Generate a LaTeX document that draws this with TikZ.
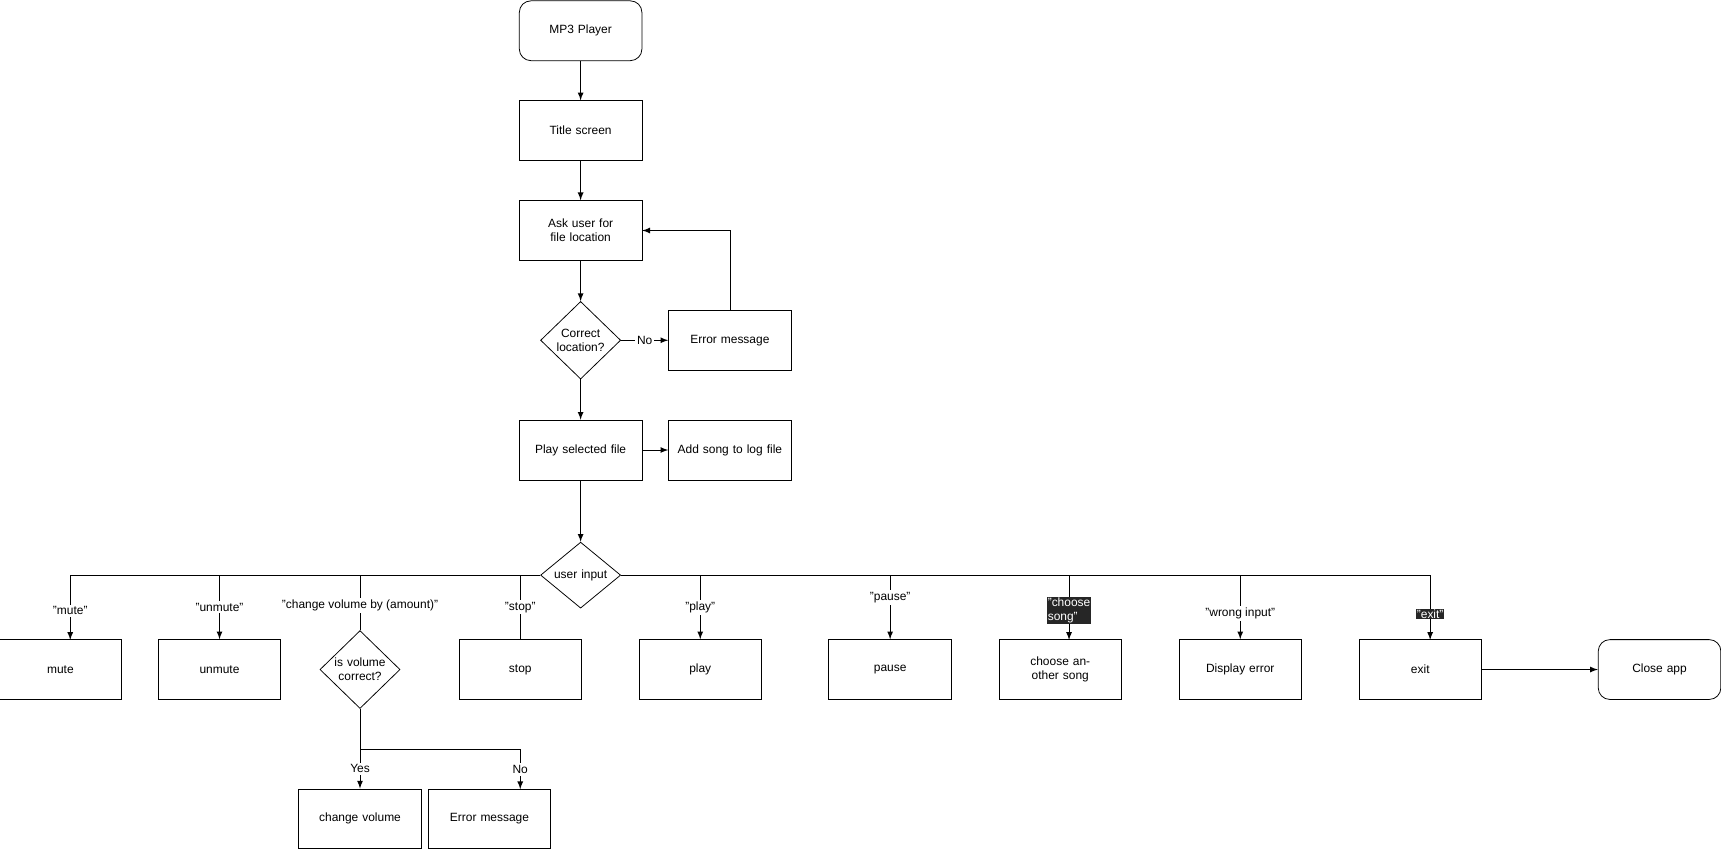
\documentclass[tikz,border=0pt]{standalone}
\usepackage{fontspec}
\setmainfont{Liberation Sans}
\usetikzlibrary{shapes.geometric}
\usetikzlibrary{positioning}
\begin{document}
\begin{tikzpicture}[
    x=0.02cm, y=-0.02cm,
    every node/.style={
        font=\fontsize{6.2}{7.4}\selectfont
    },
    process/.style={
        minimum width=2.18cm, minimum height=1.09cm,
        text width=2.0cm,
        align=center,
        rectangle,
        draw
    },
    terminal/.style={
        process,
        rounded corners=6pt
    },
    decision/.style={
        diamond,
        aspect=1,
        minimum width=1.46cm,
        inner sep=0pt,
        text width=1.0cm,
        align=center,
        draw
    },
    choice/.style={
        fill=white,
        inner sep=1pt
    },
    darkchoice/.style={
        fill=black!85,
        text=white,
        inner sep=0.5pt,
        align=left
    }
]
\useasboundingbox (0,0) rectangle (1568,775);

% main column
\node (player)  [terminal] at (529,28)  {MP3 Player};
\node (title)   [process]  at (529,119) {Title screen};
\node (ask)     [process]  at (529,210) {Ask user for file location};
\node (correct) [decision] at (529,310) {Correct location?};
\node (err1)    [process]  at (665,310) {Error message};
\node (playsel) [process]  at (529,410) {Play selected file};
\node (logfile) [process]  at (665,410) {Add song to log file};
\node (input)   [decision] at (529,524) {user input};

% choices
\node (mute)    [process]  at (55,610)   {mute};
\node (unmute)  [process]  at (200,610)  {unmute};
\node (volok)   [decision] at (328,610)  {is volume correct?};
\node (stop)    [process]  at (474,610)  {stop};
\node (play)    [process]  at (638,610)  {play};
\node (pause)   [process]  at (811,610)  {pause};
\node (choose)  [process]  at (966,610)  {choose another song};
\node (disperr) [process]  at (1130,610) {Display error};
\node (exit)    [process]  at (1294,610) {exit};
\node (close)   [terminal] at (1512,610) {Close app};
\node (volume)  [process]  at (328,746)  {change volume};
\node (err2)    [process]  at (446,746)  {Error message};

\draw[->,>=latex] (player) -- (title);
\draw[->,>=latex] (title) -- (ask);
\draw[->,>=latex] (ask) -- (correct);
\draw[->,>=latex] (correct) -- node[choice] {No} (err1);
\draw[->,>=latex] (err1.north) |- (ask.east);
\draw[->,>=latex] (correct) -- (playsel);
\draw[->,>=latex] (playsel) -- (logfile);
\draw[->,>=latex] (playsel) -- (input);

% bus from user input
\draw (input.west) -- (64,524);
\draw (input.east) -- (1303,524);
\draw[->,>=latex] (64,524) -- node[choice, pos=0.55] {"mute"} (64,583);
\draw[->,>=latex] (200,524) -- node[choice, pos=0.5] {"unmute"} (unmute.north);
\draw (328,524) -- node[choice, pos=0.55] {"change volume by (amount)"} (volok.north);
\draw (474,524) -- node[choice, pos=0.5] {"stop"} (stop.north);
\draw[->,>=latex] (638,524) -- node[choice, pos=0.5] {"play"} (play.north);
\draw[->,>=latex] (811,524) -- node[choice, pos=0.35] {"pause"} (pause.north);
\draw[->,>=latex] (974,524) -- node[darkchoice, pos=0.55] {"choose\\song"} (974,583);
\draw[->,>=latex] (1130,524) -- node[choice, pos=0.6] {"wrong input"} (disperr.north);
\draw[->,>=latex] (1303,524) -- node[darkchoice, pos=0.6] {"exit"} (1303,583);
\draw[->,>=latex] (exit) -- (close);

% volume check
\draw[->,>=latex] (volok.south) -- node[choice, pos=0.75] {Yes} (volume.north);
\draw[->,>=latex] (328,683) -| node[choice, pos=0.75] {No} (474,719);
\end{tikzpicture}
\end{document}
